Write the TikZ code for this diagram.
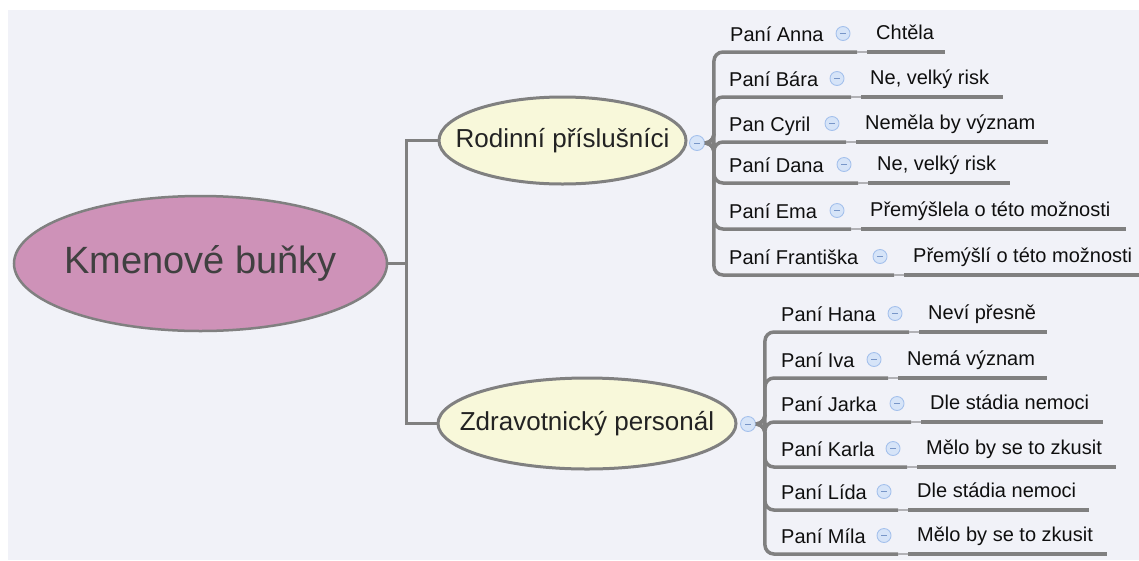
\documentclass[tikz,border=0pt]{standalone}
\usepackage{fontspec}
\setmainfont{Liberation Sans}
\usetikzlibrary{shapes.geometric,calc}

\definecolor{panel}{RGB}{241,242,248}
\definecolor{wire}{RGB}{128,128,128}
\definecolor{wirelight}{RGB}{178,178,182}
\definecolor{rootfill}{RGB}{206,146,184}
\definecolor{topicfill}{RGB}{248,248,218}
\definecolor{togfill}{RGB}{214,228,248}
\definecolor{togline}{RGB}{165,193,236}
\definecolor{togminus}{RGB}{120,150,200}
\definecolor{roottext}{RGB}{64,64,64}
\definecolor{topictext}{RGB}{35,35,35}
\definecolor{leaftext}{RGB}{15,15,15}

\tikzset{
  link/.style={draw=wire, line width=3.5pt},
  branch/.style={draw=wire, line width=3.5pt, rounded corners=9pt},
  notch/.style={draw=wirelight, line width=2pt},
  rootnode/.style={ellipse, draw=wire, line width=2.5pt, fill=rootfill,
    minimum width=373pt, minimum height=135pt, inner sep=0pt},
  rootlabel/.style={text=roottext, font={\fontsize{38}{44}\selectfont}},
  topicnode/.style={ellipse, draw=wire, line width=3pt, fill=topicfill, inner sep=0pt},
  topiclabel/.style={text=topictext, font={\fontsize{26}{31}\selectfont}},
  leafname/.style={anchor=base west, inner sep=0pt, text=leaftext,
    font={\fontsize{20}{24}\selectfont}},
  leafans/.style={leafname},
  toggle/.style={circle, draw=togline, fill=togfill, line width=0.9pt,
    minimum size=14pt, inner sep=0pt,
    path picture={\draw[togminus, line width=0.7pt]
      ([xshift=-3pt]path picture bounding box.center) --
      ([xshift=3pt]path picture bounding box.center);}},
}

% one leaf row: id, hub, line y, name x, name, toggle x, answer, line end
\newcommand{\leafrow}[8]{%
  \node[leafname] (n#1) at (#4,#3-11) {#5};
  \node[toggle] (t#1) at (#6,#3-18.5) {};
  \node[leafans] (a#1) at (#6+33,#3-12.5) {#7};
  \coordinate (p#1) at (#6+14,#3);
  \coordinate (q#1) at (#6+24,#3);
  \coordinate (e#1) at (#8,#3);
  \draw[branch] (#2.east) -- ++(9,0) |- (p#1);
  \draw[notch] (p#1) -- (q#1);
  \draw[link] (q#1) -- (e#1);
}

\begin{document}
\begin{tikzpicture}[x=1pt, y=-1pt]
  \useasboundingbox (0,0) rectangle (1139,560);
  \fill[white] (0,0) rectangle (1139,560);
  \fill[panel] (8,10) rectangle (1139,560);

  % central topic and the two main branches
  \node[rootnode, label={[rootlabel]center:Kmenové buňky}] (root) at (200.5,263.5) {};
  \node[topicnode, minimum width=247pt, minimum height=87pt,
        label={[topiclabel]center:Rodinní příslušníci}] (top1) at (562.5,140.5) {};
  \node[topicnode, minimum width=298pt, minimum height=91pt,
        label={[topiclabel]center:Zdravotnický personál}] (top2) at (587,423.5) {};

  \draw[link] (root.east) -- ++(18,0) |- (top1.west);
  \draw[link] (root.east) -- ++(18,0) |- (top2.west);

  \node[toggle, minimum size=15pt] (h1) at (697,143) {};
  \node[toggle, minimum size=15pt] (h2) at (748,424) {};

  % family members
  \leafrow{1}{h1}{52}{730}{Paní Anna}{843}{Chtěla}{945}
  \leafrow{2}{h1}{97}{729}{Paní Bára}{837}{Ne, velký risk}{1003}
  \leafrow{3}{h1}{142}{729}{Pan Cyril}{832}{Neměla by význam}{1048}
  \leafrow{4}{h1}{183}{729}{Paní Dana}{844}{Ne, velký risk}{1010}
  \leafrow{5}{h1}{229}{729}{Paní Ema}{837}{Přemýšlela o této možnosti}{1126}
  \leafrow{6}{h1}{275}{729}{Paní Františka}{880}{Přemýšlí o této možnosti}{1145}

  % medical staff
  \leafrow{7}{h2}{332}{781}{Paní Hana}{895}{Neví přesně}{1047}
  \leafrow{8}{h2}{378}{781}{Paní Iva}{874}{Nemá význam}{1047}
  \leafrow{9}{h2}{422}{781}{Paní Jarka}{897}{Dle stádia nemoci}{1103}
  \leafrow{10}{h2}{467}{781}{Paní Karla}{893}{Mělo by se to zkusit}{1116}
  \leafrow{11}{h2}{510}{781}{Paní Lída}{884}{Dle stádia nemoci}{1089}
  \leafrow{12}{h2}{554}{781}{Paní Míla}{884}{Mělo by se to zkusit}{1107}
\end{tikzpicture}
\end{document}
